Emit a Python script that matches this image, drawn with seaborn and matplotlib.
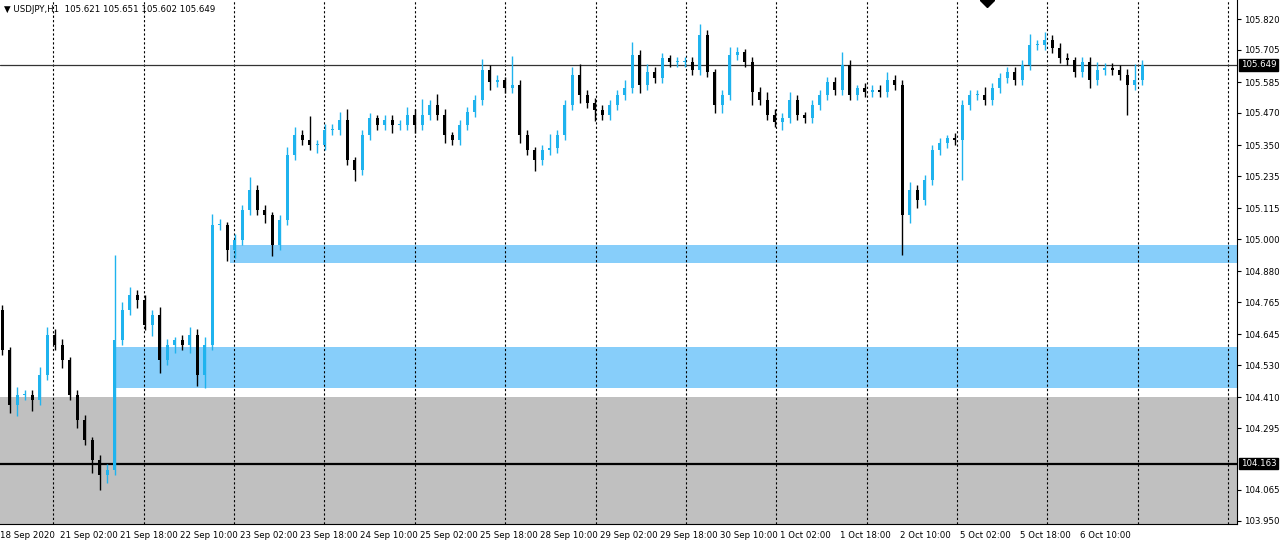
import matplotlib
matplotlib.use("Agg")
import matplotlib.pyplot as plt
import seaborn as sns

# ── Data: USDJPY H1 (sampled every 2h) ───────────────────────────────────────
first_open = 104.736
closes = [
    104.587, 104.382, 104.419, 104.419, 104.401, 104.494, 104.643, 104.606, 104.550, 104.419,
    104.326, 104.252, 104.177, 104.121, 104.140, 104.624, 104.736, 104.792, 104.773, 104.680,
    104.717, 104.550, 104.606, 104.624, 104.606, 104.643, 104.494, 104.606, 105.053, 105.053,
    104.959, 104.997, 105.108, 105.183, 105.108, 105.090, 104.978, 105.071, 105.313, 105.388,
    105.369, 105.351, 105.351, 105.407, 105.407, 105.444, 105.295, 105.258, 105.388, 105.451,
    105.425, 105.444, 105.425, 105.425, 105.463, 105.425, 105.463, 105.500, 105.463, 105.388,
    105.369, 105.425, 105.474, 105.518, 105.630, 105.585, 105.593, 105.563, 105.574, 105.388,
    105.332, 105.295, 105.332, 105.340, 105.388, 105.500, 105.612, 105.537, 105.507, 105.481,
    105.463, 105.500, 105.537, 105.563, 105.686, 105.574, 105.623, 105.600, 105.675, 105.660,
    105.660, 105.660, 105.630, 105.761, 105.623, 105.500, 105.537, 105.686, 105.697, 105.660,
    105.548, 105.518, 105.463, 105.436, 105.451, 105.518, 105.463, 105.451, 105.500, 105.537,
    105.585, 105.556, 105.649, 105.537, 105.563, 105.548, 105.556, 105.548, 105.593, 105.574,
    105.090, 105.183, 105.146, 105.220, 105.332, 105.358, 105.377, 105.369, 105.500, 105.537,
    105.537, 105.518, 105.563, 105.600, 105.623, 105.593, 105.649, 105.723, 105.723, 105.742,
    105.712, 105.675, 105.667, 105.623, 105.660, 105.593, 105.630, 105.638, 105.630, 105.612,
    105.574, 105.593, 105.649,
]
# wick lengths above / below the body
upper_wick = [
    0.02, 0.01, 0.03, 0.02, 0.02, 0.03, 0.03, 0.02, 0.02, 0.01,
    0.02, 0.02, 0.01, 0.02, 0.02, 0.317, 0.03, 0.03, 0.02, 0.02,
    0.02, 0.03, 0.02, 0.01, 0.02, 0.03, 0.02, 0.03, 0.04, 0.02,
    0.01, 0.02, 0.02, 0.05, 0.02, 0.02, 0.01, 0.02, 0.03, 0.03,
    0.02, 0.09, 0.02, 0.02, 0.02, 0.03, 0.04, 0.01, 0.02, 0.02,
    0.01, 0.02, 0.02, 0.02, 0.03, 0.02, 0.06, 0.02, 0.04, 0.02,
    0.01, 0.02, 0.02, 0.02, 0.04, 0.02, 0.02, 0.01, 0.11, 0.02,
    0.02, 0.01, 0.02, 0.05, 0.02, 0.02, 0.03, 0.04, 0.02, 0.02,
    0.02, 0.02, 0.02, 0.03, 0.05, 0.02, 0.03, 0.02, 0.02, 0.01,
    0.02, 0.02, 0.02, 0.04, 0.02, 0.01, 0.02, 0.03, 0.02, 0.01,
    0.02, 0.02, 0.03, 0.02, 0.02, 0.03, 0.02, 0.01, 0.02, 0.02,
    0.02, 0.02, 0.05, 0.02, 0.01, 0.02, 0.02, 0.02, 0.03, 0.02,
    0.02, 0.03, 0.02, 0.02, 0.02, 0.02, 0.01, 0.02, 0.02, 0.02,
    0.02, 0.03, 0.02, 0.02, 0.02, 0.02, 0.02, 0.04, 0.02, 0.03,
    0.02, 0.02, 0.02, 0.01, 0.02, 0.02, 0.03, 0.02, 0.02, 0.02,
    0.02, 0.06, 0.02,
]
lower_wick = [
    0.02, 0.03, 0.04, 0.02, 0.04, 0.02, 0.02, 0.02, 0.03, 0.02,
    0.03, 0.02, 0.05, 0.056, 0.03, 0.02, 0.02, 0.02, 0.03, 0.02,
    0.04, 0.05, 0.02, 0.03, 0.02, 0.03, 0.04, 0.05, 0.02, 0.02,
    0.04, 0.03, 0.02, 0.02, 0.02, 0.03, 0.04, 0.02, 0.02, 0.02,
    0.02, 0.02, 0.03, 0.02, 0.02, 0.02, 0.02, 0.04, 0.02, 0.02,
    0.02, 0.02, 0.03, 0.02, 0.02, 0.03, 0.02, 0.02, 0.02, 0.03,
    0.02, 0.02, 0.02, 0.02, 0.02, 0.03, 0.02, 0.02, 0.02, 0.03,
    0.02, 0.04, 0.02, 0.02, 0.02, 0.02, 0.02, 0.03, 0.02, 0.04,
    0.02, 0.02, 0.02, 0.02, 0.02, 0.03, 0.02, 0.02, 0.02, 0.02,
    0.02, 0.02, 0.02, 0.02, 0.02, 0.03, 0.03, 0.02, 0.02, 0.02,
    0.05, 0.02, 0.02, 0.02, 0.03, 0.02, 0.02, 0.02, 0.02, 0.02,
    0.02, 0.02, 0.02, 0.02, 0.02, 0.02, 0.02, 0.02, 0.02, 0.02,
    0.149, 0.03, 0.03, 0.02, 0.02, 0.02, 0.02, 0.02, 0.15, 0.02,
    0.02, 0.02, 0.02, 0.02, 0.02, 0.02, 0.02, 0.02, 0.02, 0.02,
    0.02, 0.02, 0.02, 0.02, 0.02, 0.03, 0.02, 0.02, 0.02, 0.02,
    0.11, 0.02, 0.02,
]
opens = [first_open] + closes[:-1]

x_labels = ["18 Sep 2020", "21 Sep 02:00", "21 Sep 18:00", "22 Sep 10:00", "23 Sep 02:00",
            "23 Sep 18:00", "24 Sep 10:00", "25 Sep 02:00", "25 Sep 18:00", "28 Sep 10:00",
            "29 Sep 02:00", "29 Sep 18:00", "30 Sep 10:00", "1 Oct 02:00", "1 Oct 18:00",
            "2 Oct 10:00", "5 Oct 02:00", "5 Oct 18:00", "6 Oct 10:00"]
y_ticks = [105.820, 105.705, 105.585, 105.470, 105.350, 105.235, 105.115, 105.000, 104.880,
           104.765, 104.645, 104.530, 104.410, 104.295, 104.065, 103.950]

last_price = 105.649
level_price = 104.163
zones = [  # (start bar, low, high, colour)
    (-1.0, 103.90, 104.412, "#c0c0c0"),
    (15.0, 104.445, 104.598, "#87cefa"),
    (30.4, 104.911, 104.978, "#87cefa"),
]
day_lines = [6.8 + 12.05 * k for k in range(14)]

BULL = "#1fb3ee"
BEAR = "#000000"
FS = 6.2

sns.set_theme(style="white")
plt.rcParams["font.family"] = ["DejaVu Sans"]

fig = plt.figure(figsize=(12.8, 5.43), dpi=100)
ax = fig.add_axes([0.0, 1 - 524 / 543, 1237 / 1280, 524 / 543])
ax.set_facecolor("white")

x_max = -0.3 + 1237 / 7.5
for start, lo, hi, col in zones:
    ax.fill_between([start, x_max + 1], lo, hi, color=col, lw=0, zorder=0)

for d in day_lines:
    ax.axvline(d, color="black", lw=0.8, ls=(0, (2, 2)), zorder=1)

ax.axhline(last_price, color="#333333", lw=0.9, zorder=2)
ax.axhline(level_price, color="black", lw=1.6, zorder=2)

for i, (o, c, uw, lw_) in enumerate(zip(opens, closes, upper_wick, lower_wick)):
    col = BULL if c >= o else BEAR
    top, bot = max(o, c), min(o, c)
    ax.vlines(i, bot - lw_, top + uw, color=col, lw=1.0, zorder=3)
    ax.bar(i, max(top - bot, 0.004), bottom=bot, width=0.45, color=col, lw=0, zorder=4)

ax.set_xlim(-0.3, x_max)
ax.set_ylim(103.938, 105.891)

ax.yaxis.tick_right()
ax.set_yticks(y_ticks)
ax.set_yticklabels([f"{v:.3f}" for v in y_ticks], fontsize=FS)
ax.tick_params(axis="y", length=3, width=0.8, pad=2, colors="black", direction="out")
ax.set_xticks([8 * k - 0.3 for k in range(len(x_labels))])
ax.set_xticklabels(x_labels, fontsize=FS, ha="left")
ax.tick_params(axis="x", length=3, width=0.8, pad=2, colors="black", direction="out")

for side in ["top", "left"]:
    ax.spines[side].set_visible(False)
for side in ["right", "bottom"]:
    ax.spines[side].set_color("black")
    ax.spines[side].set_linewidth(0.8)

box = dict(boxstyle="square,pad=0.15", fc="black", ec="black")
ax.text(1.003, last_price, f"{last_price:.3f}", transform=ax.get_yaxis_transform(),
        color="white", fontsize=FS, va="center", ha="left", bbox=box, zorder=6)
ax.text(1.003, level_price, f"{level_price:.3f}", transform=ax.get_yaxis_transform(),
        color="white", fontsize=FS, va="center", ha="left", bbox=box, zorder=6)

fig.text(4 / 1280, 1 - 9 / 543, "▼ USDJPY,H1  105.621 105.651 105.602 105.649",
         fontsize=FS, va="center", ha="left", color="black")
ax.plot([987 / 7.5 - 0.3], [105.891], marker="D", color="black", ms=7,
        clip_on=True, zorder=6)

fig.savefig("out.png", dpi=100)
